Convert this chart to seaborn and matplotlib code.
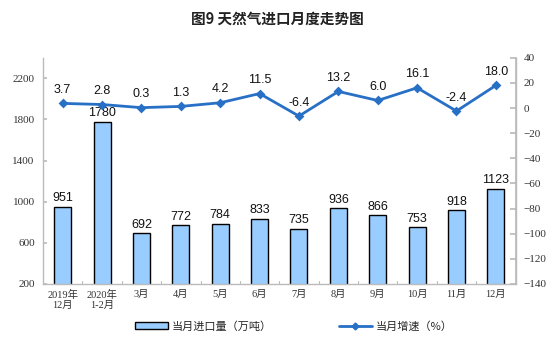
import matplotlib
matplotlib.use("Agg")
import matplotlib.pyplot as plt
import seaborn as sns
import pandas as pd
import numpy as np
from matplotlib.patches import Patch
from matplotlib.lines import Line2D

categories = ["2019年\n12月", "2020年\n1-2月", "3月", "4月", "5月", "6月", "7月", "8月", "9月", "10月", "11月", "12月"]
imports = [951, 1780, 692, 772, 784, 833, 735, 936, 866, 753, 918, 1123]
growth = [3.7, 2.8, 0.3, 1.3, 4.2, 11.5, -6.4, 13.2, 6.0, 16.1, -2.4, 18.0]
left_ticks = [200, 600, 1000, 1400, 1800, 2200]
right_ticks = list(range(-140, 41, 20))

sns.set_theme(style="white")
plt.rcParams['font.family'] = ['Noto Sans CJK SC', 'DejaVu Sans']

df = pd.DataFrame({"cat": categories, "imp": imports, "gr": growth})

fig = plt.figure(figsize=(5.54, 3.48), dpi=100)
ax = fig.add_axes([0.0776, 0.184, 0.853, 0.650])

bar_color = "#99CCFF"
line_color = "#2770C6"

sns.barplot(data=df, x="cat", y="imp", ax=ax, color=bar_color, width=0.43,
            edgecolor="black", linewidth=1.0, saturation=1)
ax.set_ylim(200, 2400)
ax.set_yticks(left_ticks)
ax.set_xlim(-0.5, len(categories) - 0.5)
ax.set_xlabel("")
ax.set_ylabel("")
ax.tick_params(axis="y", direction="in", length=3, color="#bbbbbb", labelsize=8, pad=6)
for lab in ax.get_yticklabels():
    lab.set_family(["Liberation Serif", "DejaVu Serif"])
    lab.set_color("#333333")
ax.tick_params(axis="x", length=0, labelsize=7.5, pad=4)
for lab in ax.get_xticklabels():
    lab.set_family(["Liberation Serif", "Noto Sans CJK SC"])
    lab.set_color("#333333")
# separators between categories (inward ticks)
for b in np.arange(0.5, len(categories) - 1, 1.0):
    ax.plot([b, b], [200, 200 + 25], color="#bbbbbb", lw=0.8)

for i, v in enumerate(imports):
    ax.text(i, v + 25, str(v), ha="center", va="bottom", fontsize=9,
            family=["Liberation Sans", "DejaVu Sans"], color="#111111")

ax.spines["top"].set_visible(False)
for s in ["left", "bottom", "right"]:
    ax.spines[s].set_color("#bbbbbb")
    ax.spines[s].set_linewidth(1.0)

ax2 = ax.twinx()
sns.pointplot(data=df, x="cat", y="gr", ax=ax2, color=line_color, markers="D",
              markersize=3.5, linewidth=2.0)
ax2.set_ylim(-140, 40)
ax2.set_yticks(right_ticks)
ax2.set_ylabel("")
ax2.set_xlim(-0.5, len(categories) - 0.5)
ax2.tick_params(axis="y", direction="in", length=4, color="#bbbbbb", labelsize=8, pad=6)
for lab in ax2.get_yticklabels():
    lab.set_family(["Liberation Serif", "DejaVu Serif"])
    lab.set_color("#333333")
for s in ["top", "left", "bottom"]:
    ax2.spines[s].set_visible(False)
ax2.spines["right"].set_color("#bbbbbb")

for i, v in enumerate(growth):
    ax2.text(i, v + 6, f"{v:.1f}", ha="center", va="bottom", fontsize=9,
             family=["Liberation Sans", "DejaVu Sans"], color="#111111")

fig.suptitle("图9 天然气进口月度走势图", x=0.5, y=0.97, fontsize=10.5,
             fontweight="bold", color="#222222")

handles = [Patch(facecolor=bar_color, edgecolor="black", linewidth=1.0),
           Line2D([0], [0], color=line_color, lw=2, marker="D", markersize=3.5)]
labels = ["当月进口量（万吨）", "当月增速（%）"]
fig.legend(handles, labels, loc="center", bbox_to_anchor=(0.53, 0.063), ncol=2,
           frameon=False, fontsize=8, handlelength=3.0, handleheight=0.6,
           columnspacing=6.0, handletextpad=0.3)

fig.savefig("out.png", dpi=100)
